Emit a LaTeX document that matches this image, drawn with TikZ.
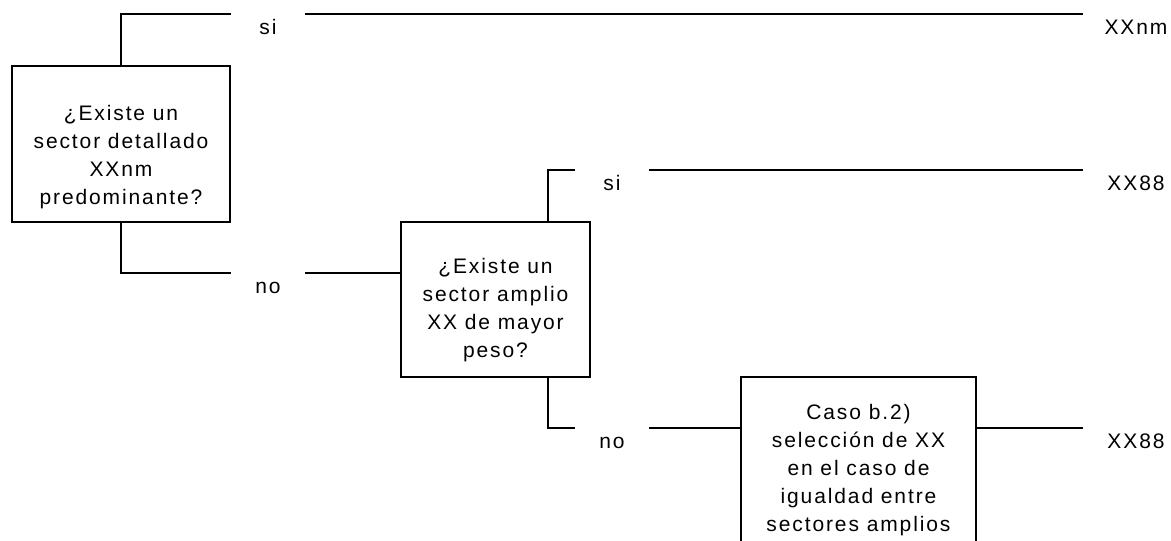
\documentclass[tikz,border=0pt]{standalone}
\usepackage{fontspec}
\setmainfont{Liberation Sans}
\newfontfamily\diagfont[LetterSpace=9]{Liberation Sans}
\usepackage{tikz}
\usetikzlibrary{positioning}
\tikzset{
    question/.style={
           rectangle,
           draw=black, line width=2pt
           },
    qtext/.style={
           align=center,
           inner sep=0pt,
           font=\diagfont\fontsize{21}{28}\selectfont
           },
    answer/.style={
           anchor=north,
           minimum width=72pt,
           minimum height=24pt,
           text height=15pt, text depth=0pt,
           inner sep=0pt,
           font=\diagfont\fontsize{21}{28}\selectfont
           },
    result/.style={
           answer,
           anchor=north west,
           minimum width=104pt
           }
}

\begin{document}
\begin{tikzpicture}[x=1pt, y=-1pt, line width=2pt]
   \useasboundingbox (0,0) rectangle (1171,541);
   % boxes
   \node[question, minimum width=218pt, minimum height=156pt] (q1) at (121,144) {};
   \node[question, minimum width=189pt, minimum height=155pt] (q2) at (495.5,299.5) {};
   \node[question, minimum width=235pt, minimum height=186pt] (q3) at (858.5,470) {};
   \node[qtext] (q1t) at (121,157) {¿Existe un\\ sector detallado\\ XXnm\\ predominante?};
   \node[qtext] (q2t) at (495.5,310) {¿Existe un\\ sector amplio\\ XX de mayor\\ peso?};
   \node[qtext] (q3t) at (858.5,470) {Caso b.2)\\ selección de XX\\ en el caso de\\ igualdad entre\\ sectores amplios};
   % branch labels
   \node[answer] (si1) at (268,14)  {si};
   \node[answer] (no1) at (268,273) {no};
   \node[answer] (si2) at (612,170) {si};
   \node[answer] (no2) at (612,428) {no};
   \node[result] (r1) at (1083,14)  {XXnm};
   \node[result] (r2) at (1083,170) {XX88};
   \node[result] (r3) at (1083,428) {XX88};

   \draw (q1.north) |- (si1.north west);
   \draw (si1.north east) -- (r1.north west);
   \draw (q1.south) |- (no1.north west);
   \draw (no1.north east) -- (no1.north east -| q2.west);
   \draw ([xshift=52pt]q2.north) |- (si2.north west);
   \draw (si2.north east) -- (r2.north west);
   \draw ([xshift=52pt]q2.south) |- (no2.north west);
   \draw (no2.north east) -- (no2.north east -| q3.west);
   \draw (q3.east |- r3.north west) -- (r3.north west);
\end{tikzpicture}
\end{document}
